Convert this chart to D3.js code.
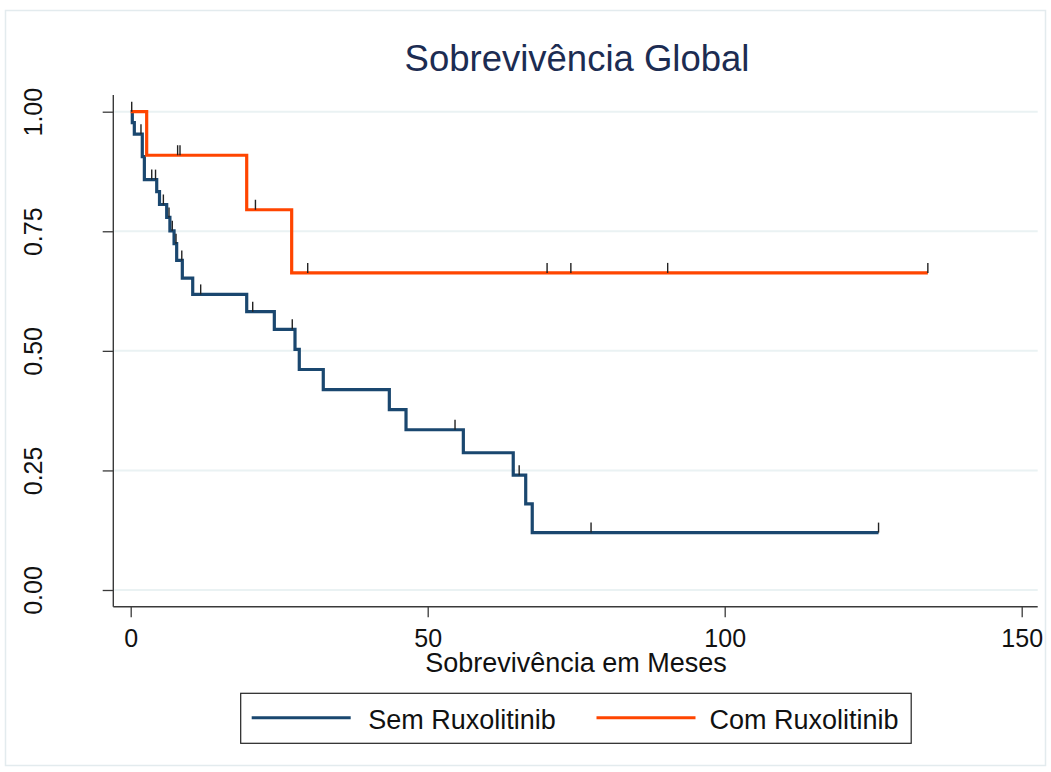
<!DOCTYPE html>
<html lang="pt">
<head>
<meta charset="utf-8">
<title>Sobrevivência Global</title>
<script src="https://cdn.jsdelivr.net/npm/d3@7/dist/d3.min.js"></script>
<style>
  html, body { margin: 0; padding: 0; background: #ffffff; }
  svg { display: block; font-family: "Liberation Sans", Arial, Helvetica, sans-serif; }
</style>
</head>
<body>
<svg id="chart" width="1051" height="772"></svg>
<script>
// Kaplan–Meier curves: step times (months) and survival after each step
const semTempos  = [0.27, 0.61, 1.95, 2.30, 4.38, 4.85, 6.06, 6.60, 7.30, 7.74, 8.69, 10.44,
                    19.53, 24.18, 27.66, 28.38, 32.42, 43.54, 46.35, 56.0, 64.4, 66.5, 67.6];
const semSobrev  = [0.977, 0.953, 0.906, 0.858, 0.833, 0.806, 0.779, 0.751, 0.724, 0.689, 0.652, 0.618,
                    0.582, 0.545, 0.503, 0.461, 0.419, 0.377, 0.335, 0.287, 0.240, 0.180, 0.120];
const semCensura = [0.17, 1.73, 3.54, 4.18, 5.5, 6.45, 7.0, 7.63, 8.6, 11.78, 20.54, 27.2,
                    54.6, 65.4, 77.5, 125.9];

const comTempos  = [2.69, 19.53, 27.1];
const comSobrev  = [0.909, 0.795, 0.663];
const comCensura = [7.9, 8.3, 21.0, 29.8, 70.1, 74.1, 90.4, 134.2];

const grupos = ["Sem Ruxolitinib", "Com Ruxolitinib"];
const cores  = ["#1a476f", "#ff4500"];

const xTicks = [0, 50, 100, 150];
const yTicks = [0, 0.25, 0.5, 0.75, 1];

const titulo  = "Sobrevivência Global";
const tituloX = "Sobrevivência em Meses";

const svg = d3.select("#chart");

// faint outer frame of the graph region
svg.append("rect")
  .attr("x", 5.5).attr("y", 10.5).attr("width", 1040).attr("height", 755)
  .attr("fill", "none").attr("stroke", "#e3ebee").attr("stroke-width", 1.5);

const plot = { left: 113.3, right: 1037.7, top: 95, bottom: 606.7 };

const x = d3.scaleLinear().domain([0, 150]).range([130.7, 1021.7]);
const y = d3.scaleLinear().domain([0, 1]).range([590, 111.7]);

// horizontal gridlines
svg.append("g").selectAll("line").data(yTicks).join("line")
  .attr("x1", plot.left + 1).attr("x2", plot.right)
  .attr("y1", d => y(d)).attr("y2", d => y(d))
  .attr("stroke", "#eaf2f3").attr("stroke-width", 2);

// step survival function for one group
function passos(tempos, sobrev, fim) {
  const pts = [[0, 1]];
  tempos.forEach((t, i) => pts.push([t, sobrev[i]]));
  pts.push([fim, sobrev[sobrev.length - 1]]);
  return pts;
}
function nivel(tempos, sobrev, t) {
  let s = 1;
  tempos.forEach((ti, i) => { if (ti <= t) s = sobrev[i]; });
  return s;
}

const series = [
  { nome: grupos[0], cor: cores[0], tempos: semTempos, sobrev: semSobrev, censura: semCensura },
  { nome: grupos[1], cor: cores[1], tempos: comTempos, sobrev: comSobrev, censura: comCensura }
];

const linha = d3.line()
  .x(d => x(d[0])).y(d => y(d[1]))
  .curve(d3.curveStepAfter);

series.forEach(s => {
  const fim = d3.max(s.censura);
  svg.append("path")
    .datum(passos(s.tempos, s.sobrev, fim))
    .attr("d", linha)
    .attr("fill", "none")
    .attr("stroke", s.cor)
    .attr("stroke-width", 3.2)
    .attr("stroke-linejoin", "miter")
    .attr("stroke-linecap", "butt");
});

// censoring marks drawn above the curves
series.forEach(s => {
  svg.append("g").selectAll("line").data(s.censura).join("line")
    .attr("x1", d => x(d)).attr("x2", d => x(d))
    .attr("y1", d => y(nivel(s.tempos, s.sobrev, d)))
    .attr("y2", d => y(nivel(s.tempos, s.sobrev, d)) - 10)
    .attr("stroke", "#222222").attr("stroke-width", 1.4);
});

// axes
const axColor = "#3a3a3a";
const gx = svg.append("g").attr("transform", `translate(0,${plot.bottom})`)
  .call(d3.axisBottom(x).tickValues(xTicks).tickFormat(d3.format("d")).tickSize(10.6).tickPadding(12));
gx.select(".domain").remove();
gx.selectAll(".tick line").attr("stroke", axColor).attr("stroke-width", 1.3);
gx.selectAll(".tick text").attr("font-size", 25).attr("fill", "#111")
  .attr("font-family", "Liberation Sans, Arial, sans-serif");

svg.append("line")
  .attr("x1", plot.left).attr("x2", plot.right)
  .attr("y1", plot.bottom).attr("y2", plot.bottom)
  .attr("stroke", axColor).attr("stroke-width", 1.4);

const gy = svg.append("g").attr("transform", `translate(${plot.left},0)`)
  .call(d3.axisLeft(y).tickValues(yTicks).tickFormat(d3.format(".2f")).tickSize(10.6));
gy.select(".domain").remove();
gy.selectAll(".tick line").attr("stroke", axColor).attr("stroke-width", 1.3);
gy.selectAll(".tick text")
  .attr("font-size", 25).attr("fill", "#111")
  .attr("font-family", "Liberation Sans, Arial, sans-serif")
  .attr("text-anchor", "middle").attr("dy", null)
  .attr("x", null)
  .attr("transform", `translate(${42 - plot.left},0) rotate(-90)`);

svg.append("line")
  .attr("x1", plot.left).attr("x2", plot.left)
  .attr("y1", plot.top).attr("y2", plot.bottom)
  .attr("stroke", axColor).attr("stroke-width", 1.4);

// titles
svg.append("text")
  .attr("x", 577).attr("y", 71)
  .attr("text-anchor", "middle")
  .attr("font-size", 36.5).attr("fill", "#1c2c52")
  .text(titulo);

svg.append("text")
  .attr("x", 576).attr("y", 672)
  .attr("text-anchor", "middle")
  .attr("font-size", 27).attr("fill", "#111")
  .text(tituloX);

// legend
const leg = svg.append("g");
leg.append("rect")
  .attr("x", 240.7).attr("y", 693.3).attr("width", 670.5).attr("height", 50)
  .attr("fill", "#ffffff").attr("stroke", "#222").attr("stroke-width", 1.2);

const legItens = [
  { x0: 251.7, x1: 350.7, tx: 368.3 },
  { x0: 596.5, x1: 695.5, tx: 709.5 }
];
legItens.forEach((it, i) => {
  leg.append("line")
    .attr("x1", it.x0).attr("x2", it.x1).attr("y1", 717.7).attr("y2", 717.7)
    .attr("stroke", cores[i]).attr("stroke-width", 3);
  leg.append("text")
    .attr("x", it.tx).attr("y", 729)
    .attr("font-size", 27).attr("fill", "#111")
    .text(grupos[i]);
});
</script>
</body>
</html>
